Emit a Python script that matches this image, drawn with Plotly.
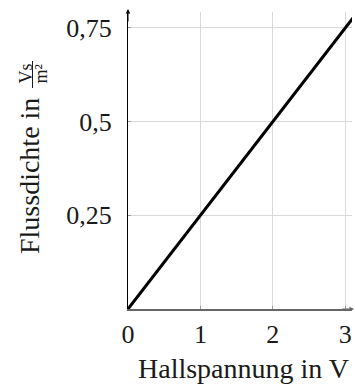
import plotly.graph_objects as go

# Data
hall_voltage = [0, 3.2]          # V
flux_density = [0, 0.8]          # Vs/m^2  (B = 0.25 * U)
x_tick_vals = [0, 1, 2, 3]
x_tick_text = ["0", "1", "2", "3"]
y_tick_vals = [0.25, 0.5, 0.75]
y_tick_text = ["0,25", "0,5", "0,75"]

W, H = 355, 385
L, R, T, B = 128, 3, 12, 76
PW, PH = W - L - R, H - T - B
XMAX = PW / 72.4
YMAX = PH / 374.7

def px_x(px):
    return (px - L) / PW

def px_y(py):
    return (H - B - py) / PH

FONT = "Liberation Serif"
TXT = "#1a1a1a"

fig = go.Figure()
fig.add_trace(go.Scatter(x=hall_voltage, y=flux_density, mode="lines",
                         line=dict(color="black", width=3), hoverinfo="skip"))

fig.update_layout(
    width=W, height=H,
    margin=dict(l=L, r=R, t=T, b=B),
    paper_bgcolor="white", plot_bgcolor="white",
    showlegend=False,
    font=dict(family=FONT, size=26, color=TXT),
    xaxis=dict(range=[0, XMAX], tickvals=x_tick_vals, ticktext=x_tick_text,
               showgrid=True, gridcolor="#d9d9d9", gridwidth=1,
               zeroline=False, showline=True, linecolor="#666", linewidth=1.5,
               ticks="inside", ticklen=3, tickcolor="#999",
               ticklabelstandoff=1, automargin=False, fixedrange=True),
    yaxis=dict(range=[0, YMAX], tickvals=y_tick_vals, ticktext=y_tick_text,
               showgrid=True, gridcolor="#d9d9d9", gridwidth=1,
               zeroline=False, showline=True, linecolor="black", linewidth=1,
               ticks="inside", ticklen=3, tickcolor="#999",
               ticklabelstandoff=10, automargin=False, fixedrange=True),
)

annotations = [
    # axis arrows
    dict(x=0, xref="x", y=px_y(9), yref="paper", ax=0, ay=14, text="",
         showarrow=True, arrowhead=2, arrowsize=0.9, arrowwidth=1, arrowcolor="black"),
    dict(x=px_x(355), xref="paper", y=0, yref="y", ax=-14, ay=0, text="",
         showarrow=True, arrowhead=2, arrowsize=0.9, arrowwidth=1, arrowcolor="#666"),
    # x title
    dict(x=px_x(243), y=px_y(368), xref="paper", yref="paper", text="Hallspannung in V",
         showarrow=False, xanchor="center", yanchor="middle",
         font=dict(family=FONT, size=28, color=TXT)),
    # y title main
    dict(x=px_x(30), y=px_y(176), xref="paper", yref="paper", text="Flussdichte in",
         showarrow=False, textangle=-90, xanchor="center", yanchor="middle",
         font=dict(family=FONT, size=28, color=TXT)),
    # fraction
    dict(x=px_x(25.5), y=px_y(74), xref="paper", yref="paper", text="Vs",
         showarrow=False, textangle=-90, xanchor="center", yanchor="middle",
         font=dict(family=FONT, size=18, color=TXT)),
    dict(x=px_x(40.5), y=px_y(74), xref="paper", yref="paper", text="m²",
         showarrow=False, textangle=-90, xanchor="center", yanchor="middle",
         font=dict(family=FONT, size=18, color=TXT)),
]
fig.update_layout(annotations=annotations)
fig.add_shape(type="line", xref="paper", yref="paper",
              x0=px_x(32.5), x1=px_x(32.5), y0=px_y(61), y1=px_y(88),
              line=dict(color=TXT, width=1))

fig.write_html(
    "out.html",
    config={"displayModeBar": False, "staticPlot": True},
    post_script="document.body.style.margin='0';document.body.style.overflow='hidden';",
)
